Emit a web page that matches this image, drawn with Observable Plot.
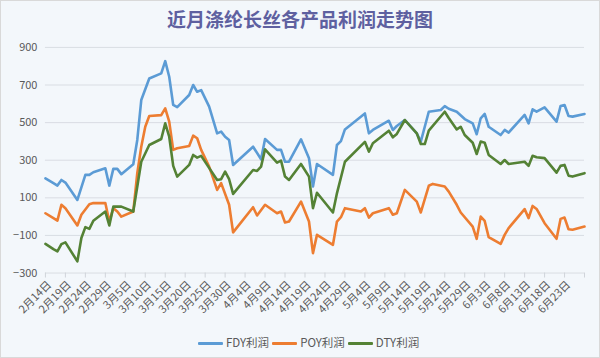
<!DOCTYPE html>
<html><head><meta charset="utf-8">
<script src="https://cdn.jsdelivr.net/npm/d3@7"></script>
<script src="https://cdn.jsdelivr.net/npm/@observablehq/plot@0.6"></script>
<style>
html,body{margin:0;padding:0;background:#fff;}
#wrap{position:relative;width:600px;height:358px;box-sizing:border-box;border:1px solid #d9d9d9;background:#f3f7fb;font-family:"Noto Sans CJK SC",sans-serif;overflow:hidden;}
#title{position:absolute;top:5px;left:-1px;width:600px;text-align:center;font-size:19px;font-weight:bold;color:#5e60a0;line-height:26px;}
#chart{position:absolute;left:-1px;top:-1px;}
#legend{position:absolute;top:332px;left:197px;font-size:11.5px;color:#595959;white-space:nowrap;line-height:18px;}
#legend .item{display:inline-block;margin-right:3px;}
#legend .sw{display:inline-block;width:25px;height:3px;vertical-align:middle;margin-right:3px;border-radius:1px;}
</style></head>
<body>
<div id="wrap">
  <div id="chart"></div>
  <div id="title"></div>
  <div id="legend"></div>
</div>
<script>
const titleText = "近月涤纶长丝各产品利润走势图";
const seriesNames = ["FDY利润", "POY利润", "DTY利润"];
const seriesColors = ["#5b9bd5", "#ed7d31", "#548235"];

const fdyDates = ["02-14","02-16","02-17","02-18","02-19","02-22","02-24","02-25","02-26","02-29",
  "03-01","03-02","03-03","03-04","03-07","03-08","03-09","03-11","03-14","03-15",
  "03-16","03-17","03-18","03-21","03-22","03-23","03-24","03-26","03-28","03-29",
  "03-30","03-31","04-01","04-06","04-08","04-09","04-12","04-13","04-14","04-15",
  "04-18","04-20","04-21","04-22","04-26","04-27","04-28","04-29","05-04","05-05",
  "05-06","05-10","05-11","05-12","05-14","05-17","05-18","05-20","05-23","05-24",
  "05-25","05-27","05-29","05-31","06-01","06-02","06-03","06-04","06-07","06-08",
  "06-09","06-13","06-14","06-15","06-16","06-18","06-21","06-22","06-23","06-24",
  "06-25","06-28"];
const fdyValues = [203,178,165,195,181,89,222,222,236,257,
  165,254,254,226,279,408,620,735,762,827,
  744,594,582,647,700,664,673,585,443,452,
  425,408,275,372,305,413,355,355,292,292,
  411,311,160,280,222,381,402,464,549,443,
  461,510,461,482,514,443,399,558,567,588,
  574,558,519,496,438,523,546,478,434,461,
  447,541,496,571,558,581,505,588,594,535,
  532,546];

const poyDates = ["02-14","02-16","02-17","02-18","02-19","02-22","02-23","02-25","02-26","02-29",
  "03-01","03-02","03-03","03-04","03-07","03-08","03-09","03-10","03-11","03-14",
  "03-15","03-16","03-17","03-18","03-21","03-22","03-23","03-24","03-26","03-28",
  "03-29","03-31","04-01","04-06","04-07","04-09","04-12","04-13","04-14","04-15",
  "04-18","04-20","04-21","04-22","04-26","04-27","04-28","04-29","05-03","05-04",
  "05-05","05-06","05-10","05-11","05-12","05-14","05-17","05-18","05-20","05-21",
  "05-24","05-25","05-27","05-28","05-31","06-01","06-02","06-03","06-04","06-07",
  "06-08","06-09","06-13","06-14","06-15","06-16","06-18","06-21","06-22","06-23",
  "06-24","06-25","06-28"];
const poyValues = [18,-8,-21,63,45,-47,10,66,72,72,
  -26,45,27,0,27,231,372,478,535,540,
  576,505,355,364,376,431,417,355,266,142,
  178,63,-84,50,6,63,18,27,-31,-26,
  80,-26,-194,-97,-150,-26,-3,45,27,45,
  -5,18,45,10,18,142,80,22,164,174,
  160,133,63,22,-53,-118,0,-23,-109,-145,
  -97,-61,40,-8,57,41,-35,-118,-12,-5,
  -67,-70,-53];

const dtyDates = ["02-14","02-16","02-17","02-18","02-19","02-22","02-23","02-24","02-25","02-26",
  "02-29","03-01","03-02","03-04","03-07","03-09","03-11","03-14","03-15","03-16",
  "03-17","03-18","03-21","03-22","03-23","03-24","03-28","03-29","03-30","03-31",
  "04-01","04-06","04-07","04-08","04-09","04-12","04-13","04-14","04-15","04-18",
  "04-20","04-21","04-22","04-26","04-27","04-29","05-04","05-05","05-06","05-10",
  "05-11","05-12","05-14","05-17","05-18","05-19","05-20","05-24","05-25","05-27",
  "05-28","05-29","05-31","06-01","06-02","06-03","06-04","06-07","06-08","06-09",
  "06-13","06-14","06-15","06-16","06-18","06-21","06-22","06-23","06-24","06-25",
  "06-28"];
const dtyValues = [-145,-173,-185,-146,-137,-238,-114,-56,-65,-22,
  27,-47,53,53,27,292,381,413,496,425,
  270,213,275,328,314,323,195,199,239,199,
  121,248,243,266,358,287,298,213,195,280,
  213,45,127,22,124,292,398,346,390,457,
  422,440,514,443,386,386,457,558,525,464,
  478,434,393,333,399,393,328,280,301,280,
  292,270,324,316,311,234,270,275,218,213,
  231];

const xTickDates = ["02-14","02-19","02-24","02-29","03-05","03-10","03-15","03-20","03-25","03-30",
  "04-04","04-09","04-14","04-19","04-24","04-29","05-04","05-09","05-14","05-19",
  "05-24","05-29","06-03","06-08","06-13","06-18","06-23","06-28"];
const xTickLabels = ["2月14日","2月19日","2月24日","2月29日","3月5日","3月10日","3月15日","3月20日","3月25日","3月30日",
  "4月4日","4月9日","4月14日","4月19日","4月24日","4月29日","5月4日","5月9日","5月14日","5月19日",
  "5月24日","5月29日","6月3日","6月8日","6月13日","6月18日","6月23日",""];
const yTicks = [-300, -100, 100, 300, 500, 700, 900];
const xStart = "02-14", xEnd = "06-28";

const parse = s => new Date("2024-" + s + "T00:00:00Z");
const build = (name, dates, values) => dates.map((d, i) => ({series: name, date: parse(d), value: values[i]}));
const data = [
  ...build(seriesNames[0], fdyDates, fdyValues),
  ...build(seriesNames[1], poyDates, poyValues),
  ...build(seriesNames[2], dtyDates, dtyValues)
];
const tickDates = xTickDates.map(parse);
const labelMap = new Map(tickDates.map((d, i) => [+d, xTickLabels[i]]));

const chart = Plot.plot({
  width: 600,
  height: 358,
  marginTop: 47,
  marginBottom: 85,
  marginLeft: 45,
  marginRight: 15,
  style: {background: "transparent", fontFamily: "'Noto Sans CJK SC', sans-serif", fontSize: "11px", overflow: "visible"},
  x: {type: "utc", domain: [parse(xStart), parse(xEnd)]},
  y: {domain: [-300, 900]},
  color: {domain: seriesNames, range: seriesColors},
  marks: [
    Plot.gridY(yTicks, {stroke: "#d9dde3", strokeOpacity: 1}),
    Plot.axisY(yTicks, {tickSize: 0, tickPadding: 8, fill: "#595959", label: null, fontSize: 11}),
    Plot.axisX(tickDates, {tickSize: 5, stroke: "#d0d4da", tickFormat: () => "", label: null}),
    Plot.axisX(tickDates, {tickSize: 0, fill: "#595959", tickRotate: -45, tickPadding: 10, dx: 4,
      tickFormat: d => labelMap.get(+d) ?? "", label: null, fontSize: 11}),
    Plot.line(data, {x: "date", y: "value", z: "series", stroke: "series", strokeWidth: 2.6, strokeLinejoin: "round"})
  ]
});
document.getElementById("chart").appendChild(chart);
document.getElementById("title").textContent = titleText;

const legend = document.getElementById("legend");
seriesNames.forEach((n, i) => {
  const it = document.createElement("span");
  it.className = "item";
  const sw = document.createElement("span");
  sw.className = "sw";
  sw.style.background = seriesColors[i];
  it.appendChild(sw);
  it.appendChild(document.createTextNode(n));
  legend.appendChild(it);
});
</script>
</body></html>
